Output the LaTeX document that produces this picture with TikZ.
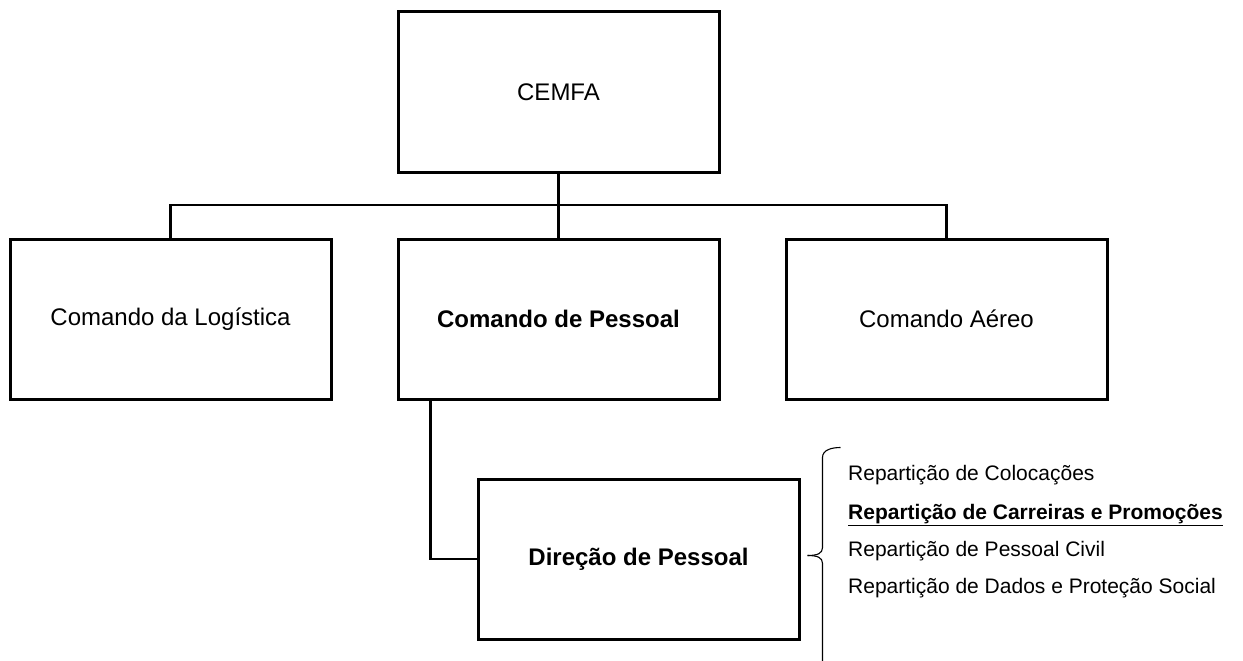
\documentclass[tikz,border=0pt]{standalone}
\usepackage{fontspec}
\setmainfont{Liberation Sans}
\usetikzlibrary{positioning}

\begin{document}
\begin{tikzpicture}[node distance=64pt, auto,
    block/.style={rectangle, draw, line width=3pt, inner sep=0pt, minimum height=160pt, minimum width=321pt, align=center, font=\fontsize{24pt}{28pt}\selectfont},
    conn/.style={line width=2.4pt},
    brace/.style={line width=1.1pt},
    item/.style={anchor=base west, inner sep=0pt, font=\fontsize{21pt}{25pt}\selectfont}
]
\useasboundingbox (0,0) rectangle (1243pt,-661pt);

% Nodes
\node[block] (cemfa) at (558.5pt,-92pt) {CEMFA};
\node[block, below=of cemfa] (pessoal) {\bfseries Comando de Pessoal};
\node[block, left=of pessoal] (logistica) {Comando da Logística};
\node[block, right=of pessoal] (aereo) {Comando Aéreo};
\node[block, below=77pt of pessoal, xshift=80pt] (direcao) {\bfseries Direção de Pessoal};

\coordinate (tip) at ([xshift=7pt,yshift=3.5pt]direcao.east);
\node[item] (colocacoes) at (848pt,-480pt) {Repartição de Colocações};
\node[item] (carreiras) at (848pt,-519pt) {\bfseries\underline{Repartição de Carreiras e Promoções}};
\node[item] (civil) at (848pt,-556pt) {Repartição de Pessoal Civil};
\node[item] (dados) at (848pt,-593pt) {Repartição de Dados e Proteção Social};

% Connectors
\draw[conn] (cemfa) -- (pessoal);
\draw[conn] (logistica.north) -- ++(0,32.5pt) -| (aereo.north);
\draw[conn] ([xshift=34pt]pessoal.south west) |- (direcao.west);

% Brace
\draw[brace] (tip) .. controls +(10pt,0) and +(0,-6pt) .. ++(15pt,8pt) -- ++(0,90pt) .. controls +(0,8pt) and +(-8pt,0) .. ++(18pt,10pt);
\draw[brace] (tip) .. controls +(10pt,0) and +(0,6pt) .. ++(15pt,-8pt) -- ++(0,-98pt);

\end{tikzpicture}
\end{document}
